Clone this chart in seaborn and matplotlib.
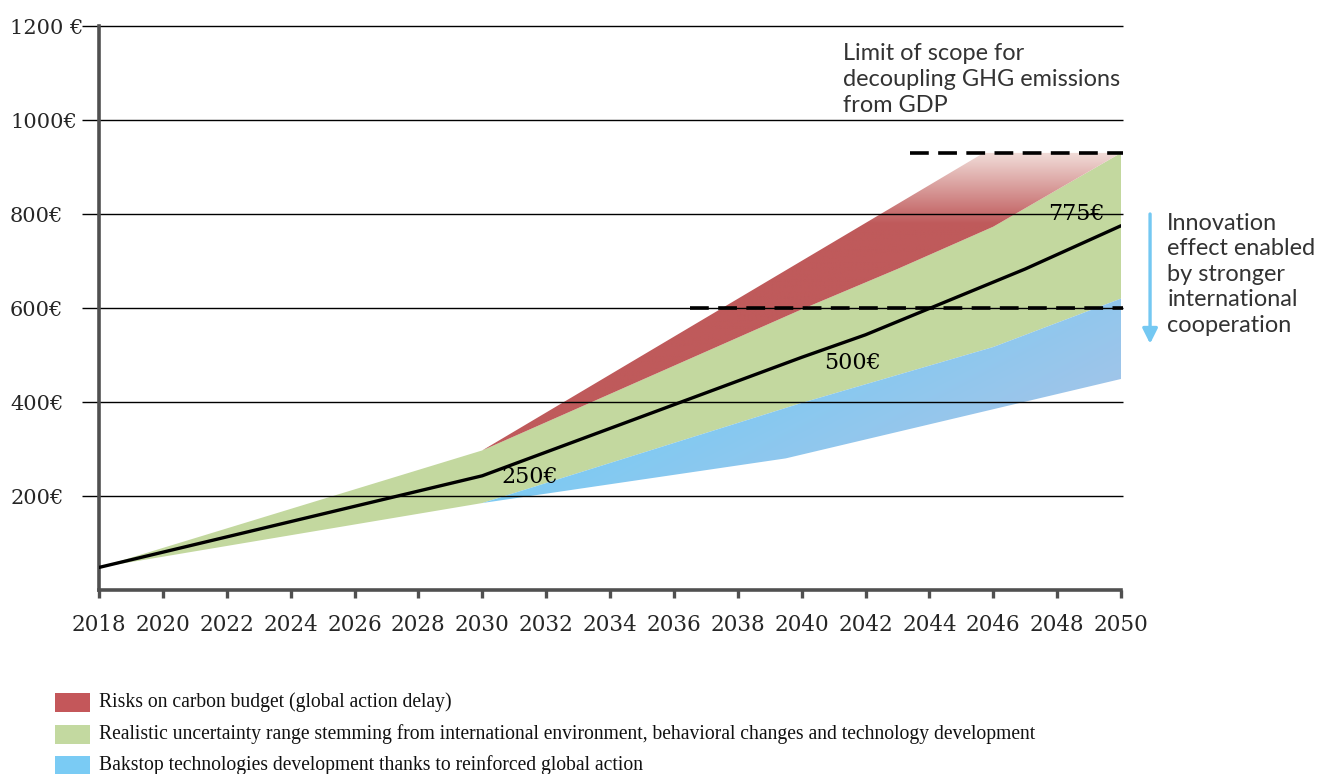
import numpy as np
import pandas as pd
import matplotlib
matplotlib.use("Agg")
import matplotlib.pyplot as plt
from matplotlib.patches import Rectangle, Polygon
import seaborn as sns

# ---------------- data ----------------
central_years = [2018, 2030, 2040, 2042, 2047, 2050]
central_values = [48, 243, 495, 543, 683, 775]

green_upper_years = [2018, 2030, 2040, 2043, 2046, 2050]
green_upper_values = [48, 297, 597, 683, 773, 930]

green_lower_years = [2018, 2030, 2040, 2046, 2050]
green_lower_values = [48, 185, 398, 517, 620]

red_upper_years = [2030, 2045.7, 2050]
red_upper_values = [297, 930, 930]

blue_lower_years = [2030, 2039.5, 2050]
blue_lower_values = [185, 280, 449]

limit_levels = [600, 930]
limit_starts = [2036.5, 2043.4]

labels_years = [2031.5, 2041.6, 2048.6]
labels_values = [240, 483, 800]
labels_text = ["250€", "500€", "775€"]

x_ticks = list(range(2018, 2051, 2))
y_ticks = [200, 400, 600, 800, 1000, 1200]
y_tick_labels = ["200€", "400€", "600€", "800€", "1000€", "1200 €"]

legend_labels = [
    "Risks on carbon budget (global action delay)",
    "Realistic uncertainty range stemming from international environment, behavioral changes and technology development",
    "Bakstop technologies development thanks to reinforced global action",
]
legend_colors = ["#C4575A", "#C3D9A0", "#7ACBF4"]

limit_text = "Limit of scope for\ndecoupling GHG emissions\nfrom GDP"
innovation_text = "Innovation\neffect enabled\nby stronger\ninternational\ncooperation"

# ---------------- style ----------------
sns.set_style("white")
plt.rcParams["font.family"] = ["DejaVu Serif"]

W, H = 1343, 774
fig = plt.figure(figsize=(W / 100, H / 100), dpi=100)
x0, x1, y0, y1 = 99, 1121, 26, 590
ax = fig.add_axes([x0 / W, 1 - y1 / H, (x1 - x0) / W, (y1 - y0) / H])
ax.set_xlim(2018, 2050)
ax.set_ylim(0, 1200)

def poly(upx, upy, lox, loy):
    xs = list(upx) + list(lox)[::-1]
    ys = list(upy) + list(loy)[::-1]
    return np.column_stack([xs, ys])

# green band
green_poly = poly(green_upper_years, green_upper_values, green_lower_years, green_lower_values)
ax.add_patch(Polygon(green_poly, closed=True, facecolor="#C3D89F", edgecolor="none", zorder=1))

# red band (gradient, fading to pale at the top)
gu_after = [(x, v) for x, v in zip(green_upper_years, green_upper_values) if x >= 2030]
red_poly = poly(red_upper_years, red_upper_values, [p[0] for p in gu_after], [p[1] for p in gu_after])
red_patch = Polygon(red_poly, closed=True, facecolor="none", edgecolor="none", zorder=1)
ax.add_patch(red_patch)
vv = np.linspace(1200, 0, 600)
t = np.clip((vv - 780) / (930 - 780), 0, 1)[:, None]
c_red = np.array([0xBF, 0x5A, 0x5B]) / 255
c_pink = np.array([0xF1, 0xDC, 0xD8]) / 255
img = c_red[None, :] * (1 - t) + c_pink[None, :] * t
img = np.repeat(img[:, None, :], 4, axis=1)
im = ax.imshow(img, extent=[2018, 2050, 0, 1200], aspect="auto", zorder=1, interpolation="bilinear")
im.set_clip_path(red_patch)

# blue band (gradient)
gl_after = [(x, v) for x, v in zip(green_lower_years, green_lower_values) if x >= 2030]
blue_poly = poly([p[0] for p in gl_after], [p[1] for p in gl_after], blue_lower_years, blue_lower_values)
blue_patch = Polygon(blue_poly, closed=True, facecolor="none", edgecolor="none", zorder=1)
ax.add_patch(blue_patch)
xx = np.linspace(2018, 2050, 400)
yy = np.linspace(1200, 0, 300)
XX, YY = np.meshgrid(xx, yy)
tb = np.clip(0.75 * (XX - 2038) / 12 + 0.35 * (520 - YY) / 200, 0, 1)[..., None]
c_b1 = np.array([0x7A, 0xCB, 0xF4]) / 255
c_b2 = np.array([0xA4, 0xC4, 0xE8]) / 255
bimg = c_b1 * (1 - tb) + c_b2 * tb
bim = ax.imshow(bimg, extent=[2018, 2050, 0, 1200], aspect="auto", zorder=1, interpolation="bilinear")
bim.set_clip_path(blue_patch)

ax.set_xlim(2018, 2050)
ax.set_ylim(0, 1200)

# gridlines
ax.hlines(y_ticks, 2017.47, 2050.05, colors="black", linewidth=1.0, zorder=2, clip_on=False)

# central line
df = pd.DataFrame({"year": central_years, "value": central_values})
sns.lineplot(data=df, x="year", y="value", ax=ax, color="black", linewidth=2.4, zorder=4)

# dashed limit lines
for lvl, st in zip(limit_levels, limit_starts):
    ax.plot([st, 2050.05], [lvl, lvl], color="black", linewidth=2.6, dashes=(5.2, 2.6),
            solid_capstyle="butt", dash_capstyle="butt", zorder=5, clip_on=False)

# value labels
for x, v, s in zip(labels_years, labels_values, labels_text):
    ax.text(x, v, s, ha="center", va="center", fontsize=16, color="black", zorder=6)

# axes styling
for s in ["top", "right"]:
    ax.spines[s].set_visible(False)
for s in ["left", "bottom"]:
    ax.spines[s].set_color("#505050")
    ax.spines[s].set_linewidth(2.6)
ax.set_xlabel("")
ax.set_ylabel("")
ax.set_xticks(x_ticks)
ax.set_xticklabels([str(x) for x in x_ticks])
ax.tick_params(axis="x", direction="out", length=6, width=2.4, color="#505050",
               labelsize=15.5, pad=11, bottom=True)
ax.set_yticks(y_ticks)
ax.set_yticklabels(y_tick_labels)
ax.tick_params(axis="y", length=0, labelsize=15, pad=64)
for lab in ax.get_yticklabels():
    lab.set_horizontalalignment("left")

# side annotations
sans = ["Lato", "DejaVu Sans"]
ax.text(0.728, 1163, limit_text, transform=ax.get_yaxis_transform(), ha="left", va="top",
        fontsize=16.9, family=sans, fontweight="normal", color="#333333", linespacing=1.27)
ax.text(2051.45, 803, innovation_text, ha="left", va="top", fontsize=16.9, family=sans,
        fontweight="normal", color="#333333", linespacing=1.27, clip_on=False)
ax.annotate("", xy=(2050.91, 524), xytext=(2050.91, 800), annotation_clip=False,
            arrowprops=dict(arrowstyle="-|>,head_length=0.9,head_width=0.45",
                            color="#74C8F2", linewidth=2.4, shrinkA=0, shrinkB=0))

# legend (manual)
rows = [702.5, 734.5, 765.5]
for yc, lab, col in zip(rows, legend_labels, legend_colors):
    fig.add_artist(Rectangle((55 / W, 1 - (yc + 9.5) / H), 35 / W, 19 / H,
                             transform=fig.transFigure, facecolor=col, edgecolor="none"))
    fig.text(99 / W, 1 - yc / H, lab, ha="left", va="center", fontsize=14.1,
             family=["Liberation Serif"], color="#111111")

fig.savefig("out.png", dpi=100)
